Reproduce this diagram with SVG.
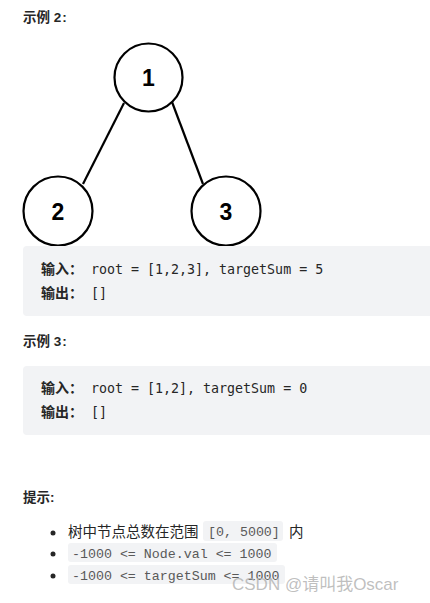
<svg xmlns="http://www.w3.org/2000/svg" width="430" height="603" viewBox="0 0 430 603">
<style>
.h{font-family:"Liberation Sans","Noto Sans CJK SC",sans-serif;font-size:13.5px;font-weight:bold;fill:#262626}
.nd circle{fill:#fff;stroke:#000;stroke-width:2.2}
.nd text{font-family:"Liberation Sans",Arial,sans-serif;font-size:23px;font-weight:bold;fill:#000;text-anchor:middle}
.box{fill:#f2f3f5}
.lbl{font-family:"Noto Sans CJK SC",sans-serif;font-size:14px;font-weight:bold;fill:#262626}
.code{font-family:"DejaVu Sans Mono","Liberation Mono",monospace;font-size:13.3px;fill:#262626}
.txt{font-family:"Noto Sans CJK SC",sans-serif;font-size:14.5px;fill:#262626}
.ic{font-family:"Liberation Mono",monospace;font-size:13.3px;fill:#595959}
.icb{fill:#f2f3f5}
.wm{font-family:"Liberation Sans","Noto Sans CJK SC",sans-serif;font-size:17px;fill:#b4b4b4;fill-opacity:0.85}
</style>
<rect width="430" height="603" fill="#fff"/>
<text class="h" x="23" y="22">示例 2<tspan dx="1">:</tspan></text>
<g id="edges" stroke="#000" stroke-width="2.2">
<line x1="124" y1="103" x2="83" y2="184"/>
<line x1="172" y1="102" x2="203" y2="184"/>
</g>
<g id="n1" class="nd"><circle cx="148.5" cy="77.5" r="34"/><text x="148.5" y="86">1</text></g>
<g id="n2" class="nd"><circle cx="58" cy="211" r="34.5"/><text x="58" y="219.5">2</text></g>
<g id="n3" class="nd"><circle cx="226" cy="211" r="34.5"/><text x="226" y="219.5">3</text></g>
<rect class="box" x="23" y="246" width="420" height="70" rx="4"/>
<text class="lbl" x="41" y="274">输入<tspan>：</tspan></text>
<text class="code" x="91" y="274">root = [1,2,3], targetSum = 5</text>
<text class="lbl" x="41" y="298">输出<tspan>：</tspan></text>
<text class="code" x="91" y="298">[]</text>
<text class="h" x="23" y="346">示例 3<tspan dx="1">:</tspan></text>
<rect class="box" x="23" y="366" width="420" height="69" rx="4"/>
<text class="lbl" x="41" y="393">输入<tspan>：</tspan></text>
<text class="code" x="91" y="393">root = [1,2], targetSum = 0</text>
<text class="lbl" x="41" y="417">输出<tspan>：</tspan></text>
<text class="code" x="91" y="417">[]</text>
<text class="h" x="23" y="502">提示:</text>
<g fill="#262626"><circle cx="53" cy="533" r="2.5"/><circle cx="53" cy="554" r="2.5"/><circle cx="53" cy="576" r="2.5"/></g>
<text class="txt" x="68" y="537">树中节点总数在范围</text>
<rect class="icb" x="203" y="521" width="80" height="20" rx="3"/>
<text class="ic" x="208" y="536">[0, 5000]</text>
<text class="txt" x="289" y="537">内</text>
<rect class="icb" x="68" y="543" width="209" height="19" rx="3"/>
<text class="ic" x="72" y="558">-1000 &lt;= Node.val &lt;= 1000</text>
<rect class="icb" x="68" y="565" width="217" height="19" rx="3"/>
<text class="ic" x="72" y="580">-1000 &lt;= targetSum &lt;= 1000</text>
<text class="wm" x="232" y="590">CSDN @请叫我Oscar</text>
</svg>
